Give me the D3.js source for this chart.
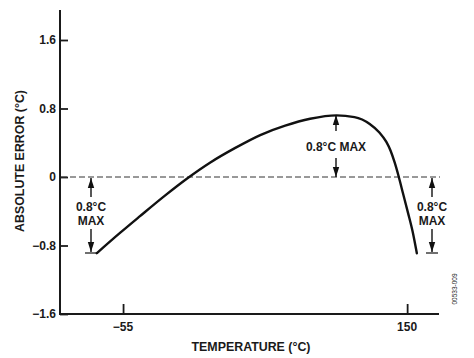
<!DOCTYPE html>
<html>
<head>
<meta charset="utf-8">
<script src="https://cdn.jsdelivr.net/npm/d3@7"></script>
<style>
  html, body { margin: 0; padding: 0; background: #fff; }
  svg { display: block; }
  text { font-family: "Liberation Sans", Arial, sans-serif; font-weight: bold; fill: #1a1a1a; }
</style>
</head>
<body>
<svg id="chart" width="474" height="358"></svg>
<script>
// ---- data ----
const temperatures = [-74, -57, -43, -25, -9, 8, 26, 44, 62, 80, 99, 112, 123, 130, 135, 138, 141, 144, 147, 150.5, 154, 157];
const errors       = [-0.89, -0.65, -0.46, -0.22, -0.02, 0.17, 0.34, 0.49, 0.60, 0.68, 0.72, 0.70, 0.62, 0.52, 0.41, 0.31, 0.17, 0, -0.19, -0.41, -0.64, -0.89];
const yTicks = [-1.6, -0.8, 0, 0.8, 1.6];
const xTicks = [-55, 150];
const xLabel = "TEMPERATURE (°C)";
const yLabel = "ABSOLUTE ERROR (°C)";
const annotationText = "0.8°C MAX";
const figureId = "00533-009";

const svg = d3.select("#chart");
const x = d3.scaleLinear().domain([-100.5, 173]).range([60, 439]);
const y = d3.scaleLinear().domain([-1.6, 1.6]).range([314, 40]);
const yTop = 1.95;

const fmt = v => (v < 0 ? "\u2212" : "") + (v === 0 ? "0" : d3.format(".1f")(Math.abs(v)));

// y axis
const yAxis = svg.append("g").attr("transform", "translate(60,0)")
  .call(d3.axisRight(y).tickValues(yTicks).tickSize(8).tickFormat(""));
yAxis.select(".domain").remove();
yAxis.selectAll(".tick line").attr("stroke", "#1a1a1a").attr("stroke-width", 1.8);
svg.append("line").attr("x1", 60).attr("x2", 60).attr("y1", y(yTop)).attr("y2", 315)
  .attr("stroke", "#1a1a1a").attr("stroke-width", 2);
svg.selectAll(".ylab").data(yTicks).enter().append("text")
  .attr("x", 56).attr("y", d => y(d)).attr("dy", "0.36em")
  .attr("text-anchor", "end").attr("font-size", 12)
  .text(d => fmt(d));

// x axis
const xAxis = svg.append("g").attr("transform", "translate(0,314)")
  .call(d3.axisTop(x).tickValues(xTicks).tickSize(10).tickFormat(""));
xAxis.select(".domain").remove();
xAxis.selectAll(".tick line").attr("stroke", "#1a1a1a").attr("stroke-width", 1.8);
svg.append("line").attr("x1", 59).attr("x2", 439).attr("y1", 314).attr("y2", 314)
  .attr("stroke", "#1a1a1a").attr("stroke-width", 2);
svg.selectAll(".xlab").data(xTicks).enter().append("text")
  .attr("x", d => x(d)).attr("y", 330.5)
  .attr("text-anchor", "middle").attr("font-size", 12)
  .text(d => d < 0 ? "\u2212" + Math.abs(d) : d);

// axis titles
svg.append("text").attr("x", 251).attr("y", 351).attr("text-anchor", "middle")
  .attr("font-size", 12.4).text(xLabel);
svg.append("text").attr("transform", "translate(24,161) rotate(-90)")
  .attr("text-anchor", "middle").attr("font-size", 12.4).text(yLabel);

// dashed zero line
svg.append("line").attr("x1", 61).attr("x2", 440).attr("y1", y(0)).attr("y2", y(0))
  .attr("stroke", "#333").attr("stroke-width", 1).attr("stroke-dasharray", "6,3");

// curve
const pts = temperatures.map((t, i) => [t, errors[i]]);
svg.append("path").datum(pts)
  .attr("fill", "none").attr("stroke", "#111").attr("stroke-width", 2.4)
  .attr("stroke-linecap", "round")
  .attr("d", d3.line().x(d => x(d[0])).y(d => y(d[1])).curve(d3.curveMonotoneX));

// arrows
const defs = svg.append("defs");
defs.append("marker").attr("id", "ah").attr("viewBox", "0 0 10 10")
  .attr("refX", 10).attr("refY", 5).attr("markerWidth", 10).attr("markerHeight", 10)
  .attr("markerUnits", "userSpaceOnUse").attr("orient", "auto")
  .append("path").attr("d", "M0,1.8 L10,5 L0,8.2 Z").attr("fill", "#111");

function arrow(px, y1, y2) {
  svg.append("line").attr("x1", px).attr("x2", px).attr("y1", y1).attr("y2", y2)
    .attr("stroke", "#111").attr("stroke-width", 1.4).attr("marker-end", "url(#ah)");
}
const words = annotationText.split(" ");
const line1 = words[0], line2 = words.slice(1).join(" ");

// left annotation
const lx = 91;
arrow(lx, 197, y(0) + 1);
svg.append("text").attr("x", lx).attr("y", 211).attr("text-anchor", "middle").attr("font-size", 12).text(line1);
svg.append("text").attr("x", lx).attr("y", 225).attr("text-anchor", "middle").attr("font-size", 12).text(line2);
arrow(lx, 229, 252);
svg.append("line").attr("x1", 85).attr("x2", 97).attr("y1", 253).attr("y2", 253).attr("stroke", "#111").attr("stroke-width", 1.2);

// middle annotation
const mx = 336;
arrow(mx, 131, 115);
svg.append("text").attr("x", mx).attr("y", 151).attr("text-anchor", "middle").attr("font-size", 12).text(annotationText);
arrow(mx, 158, y(0));

// right annotation
const rx = 432;
arrow(rx, 197, y(0) + 1);
svg.append("text").attr("x", rx).attr("y", 211).attr("text-anchor", "middle").attr("font-size", 12).text(line1);
svg.append("text").attr("x", rx).attr("y", 225).attr("text-anchor", "middle").attr("font-size", 12).text(line2);
arrow(rx, 229, 252);
svg.append("line").attr("x1", 426).attr("x2", 438).attr("y1", 253).attr("y2", 253).attr("stroke", "#111").attr("stroke-width", 1.2);

// figure id
svg.append("text").attr("transform", "translate(457,289) rotate(-90)")
  .attr("text-anchor", "middle").attr("font-size", 6.5)
  .style("font-weight", "normal").attr("fill", "#555").text(figureId);
</script>
</body>
</html>
